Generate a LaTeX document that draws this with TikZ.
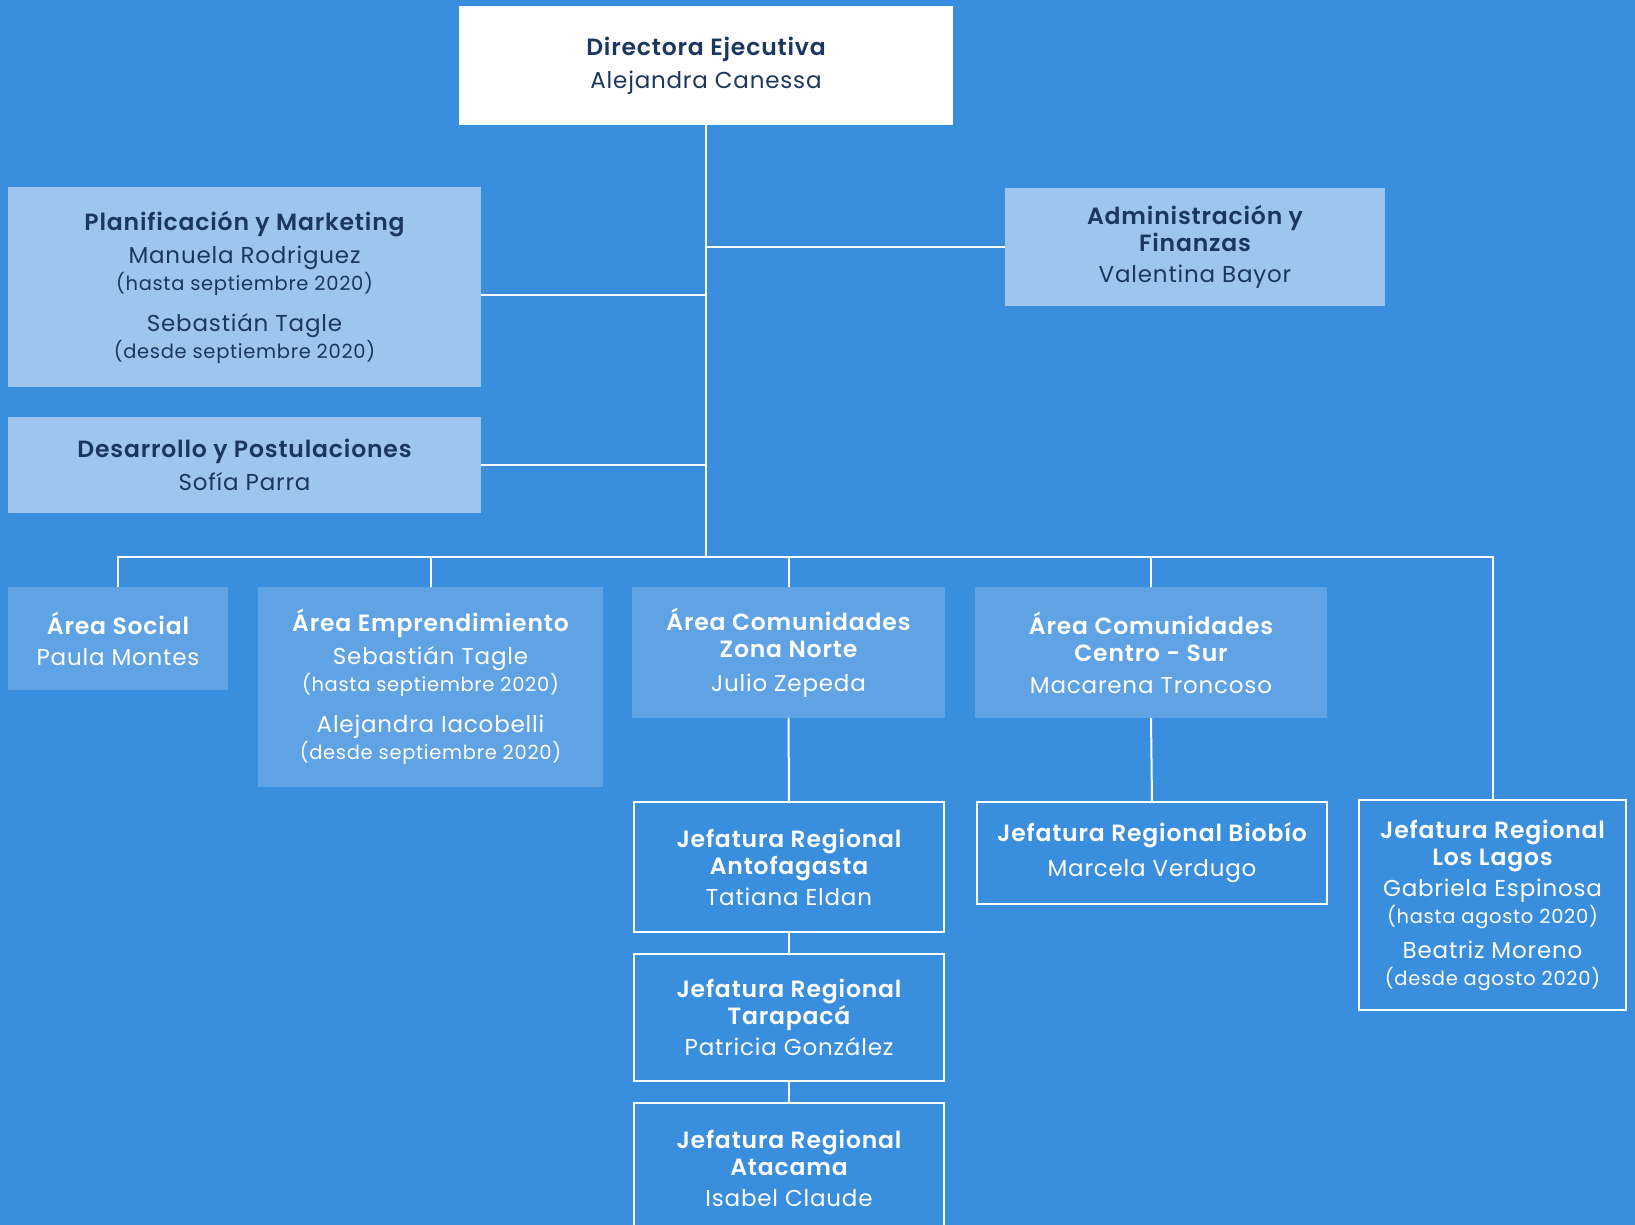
\documentclass[tikz,border=0pt]{standalone}
\usepackage{fontspec}
\setmainfont{Poppins}[LetterSpace=3.5, BoldFont={Poppins SemiBold}]
\definecolor{fondo}{HTML}{3A8EDE}
\definecolor{claro}{HTML}{9DC5EE}
\definecolor{medio}{HTML}{60A3E5}
\definecolor{marino}{HTML}{1C375F}
\newcommand{\cargo}[1]{{\fontsize{23.5}{27}\selectfont\bfseries #1}}
\newcommand{\periodo}[1]{{\fontsize{19.5}{22}\selectfont #1}}

\tikzstyle{caja} = [anchor=north west, inner sep=0pt, outer sep=0pt, align=center,
	font=\fontsize{23}{27}\selectfont]
\tikzstyle{jefa} = [caja, fill=white, text=marino]
\tikzstyle{staff} = [caja, fill=claro, text=marino]
\tikzstyle{area} = [caja, fill=medio, text=white]
\tikzstyle{region} = [caja, draw=white, line width=2.5pt, text=white]
\tikzstyle{linea} = [draw=white, line width=2pt]

\begin{document}
\begin{tikzpicture}[x=1pt,y=-1pt]
\fill[fondo] (0,0) rectangle (1635,1225);
\useasboundingbox (0,0) rectangle (1635,1225);

\node [jefa, minimum width=494pt, minimum height=119pt] (dir) at (459,6)
	{\cargo{Directora Ejecutiva}\\[6pt] Alejandra Canessa};
\node [staff, minimum width=473pt, minimum height=200pt] (planif) at (8,187)
	{\cargo{Planificación y Marketing}\\[6pt] Manuela Rodriguez\\
	\periodo{(hasta septiembre 2020)}\\[14pt] Sebastián Tagle\\
	\periodo{(desde septiembre 2020)}};
\node [staff, minimum width=380pt, minimum height=118pt] (admin) at (1005,188)
	{\cargo{Administración y}\\ \cargo{Finanzas}\\[4pt] Valentina Bayor};
\node [staff, minimum width=473pt, minimum height=96pt] (desarr) at (8,417)
	{\cargo{Desarrollo y Postulaciones}\\[6pt] Sofía Parra};

\node [area, minimum width=220pt, minimum height=103pt] (social) at (8,587)
	{\cargo{Área Social}\\[4pt] Paula Montes};
\node [area, minimum width=345pt, minimum height=200pt] (empr) at (258,587)
	{\cargo{Área Emprendimiento}\\[6pt] Sebastián Tagle\\
	\periodo{(hasta septiembre 2020)}\\[14pt] Alejandra Iacobelli\\
	\periodo{(desde septiembre 2020)}};
\node [area, minimum width=313pt, minimum height=131pt] (norte) at (632,587)
	{\cargo{Área Comunidades}\\ \cargo{Zona Norte}\\[7pt] Julio Zepeda};
\node [area, minimum width=352pt, minimum height=131pt] (sur) at (975,587)
	{\cargo{Área Comunidades}\\ \cargo{Centro - Sur}\\[5pt] Macarena Troncoso};

\node [region, minimum width=310pt, minimum height=130pt] (antof) at (634,802)
	{\cargo{Jefatura Regional}\\ \cargo{Antofagasta}\\[4pt] Tatiana Eldan};
\node [region, minimum width=310pt, minimum height=127pt] (tarap) at (634,954)
	{\cargo{Jefatura Regional}\\ \cargo{Tarapacá}\\[4pt] Patricia González};
\node [region, minimum width=310pt, minimum height=130pt] (atac) at (634,1103)
	{\cargo{Jefatura Regional}\\ \cargo{Atacama}\\[4pt] Isabel Claude};
\node [region, minimum width=350pt, minimum height=102pt] (biobio) at (977,802)
	{\cargo{Jefatura Regional Biobío}\\[8pt] Marcela Verdugo};
\node [region, minimum width=267pt, minimum height=210pt] (lagos) at (1359,800)
	{\cargo{Jefatura Regional}\\ \cargo{Los Lagos}\\[4pt] Gabriela Espinosa\\
	\periodo{(hasta agosto 2020)}\\[8pt] Beatriz Moreno\\
	\periodo{(desde agosto 2020)}};

\coordinate (bus) at (706,557);
\draw [linea] (dir.south) -- (dir.south |- bus);
\draw [linea] (admin.west) -- (admin.west -| dir.south);
\draw [linea] ([yshift=-8pt]planif.east) -- ([yshift=-8pt]planif.east -| dir.south);
\draw [linea] (desarr.east) -- (desarr.east -| dir.south);
\draw [linea] (social.north) -- (social.north |- bus) -- (lagos.north |- bus) -- (lagos.north);
\draw [linea] (empr.north) -- (empr.north |- bus);
\draw [linea] (norte.north) -- (norte.north |- bus);
\draw [linea] (sur.north) -- (sur.north |- bus);
\draw [linea] (norte.south) -- (antof.north);
\draw [linea] (antof.south) -- (tarap.north);
\draw [linea] (tarap.south) -- (atac.north);
\draw [linea] (sur.south) -- (biobio.north);
\end{tikzpicture}
\end{document}
